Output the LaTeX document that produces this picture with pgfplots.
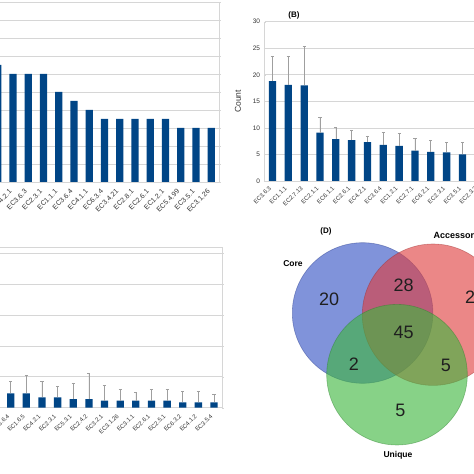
\documentclass[border=0pt]{standalone}
\usepackage{pgfplots}
\pgfplotsset{compat=1.18}
\usepackage{fontspec}
\setmainfont{Liberation Sans}
\definecolor{barblue}{HTML}{004586}
\definecolor{gridgray}{HTML}{D6D6D6}
\definecolor{tickgray}{HTML}{333333}
\definecolor{venblue}{RGB}{50,80,195}
\definecolor{venred}{RGB}{222,62,62}
\definecolor{vengreen}{RGB}{62,182,62}
\pgfplotsset{
  panel/.style={
    scale only axis, anchor=south west, enlargelimits=false,
    ybar, bar width=7.3pt,
    ymajorgrids, grid style={gridgray, line width=0.6pt},
    axis line style={gridgray, line width=0.6pt},
    xtick style={draw=none},
    ytick style={gridgray},
    tick align=outside, major tick length=2pt,
    /pgf/number format/assume math mode=true,
    yticklabel style={font=\fontsize{6.5}{7}\selectfont, color=tickgray},
  },
  errs/.style={
    error bars/.cd, y dir=plus, y explicit,
    error bar style={gray!75, line width=0.6pt},
    error mark options={rotate=90, gray!75, mark size=1.6pt, line width=0.6pt},
  },
}
\begin{document}
\begin{tikzpicture}

% ---------------- Panel A ----------------
\begin{axis}[panel, at={(-9.875pt,292pt)}, width=228.75pt, height=180pt,
  xmin=-0.5, xmax=14.5, ymin=0, ymax=20, ytick={0,2,...,20},
  axis lines=box,
  xtick={0,...,14},
  xticklabels={EC3.1.3,EC4.2.1,EC3.6.3,EC2.3.1,EC1.1.1,EC3.6.4,EC4.1.1,EC6.3.4,EC3.4.21,EC2.8.1,EC2.6.1,EC1.2.1,EC5.4.99,EC3.5.1,EC3.1.26},
  xticklabel style={yshift=-4pt, rotate=45, anchor=east, font=\fontsize{7}{8}\selectfont, color=tickgray},
]
\addplot[fill=barblue, draw=none] coordinates {
(0,13) (1,12) (2,12) (3,12) (4,10) (5,9) (6,8) (7,7) (8,7) (9,7) (10,7) (11,7) (12,6) (13,6) (14,6)};
\end{axis}

% ---------------- Panel B ----------------
\begin{axis}[panel, at={(264.6pt,293pt)}, width=237.4pt, height=159.3pt,
  xmin=-0.5, xmax=14.5, ymin=0, ymax=30, ytick={0,5,...,30},
  axis x line=bottom, axis y line=left, axis line style={-, gridgray, line width=0.6pt},
  xtick={0,...,13},
  xticklabels={EC3.6.3,EC1.1.1,EC2.7.13,EC2.1.1,EC6.1.1,EC2.6.1,EC4.2.1,EC3.6.4,EC1.2.1,EC2.7.1,EC6.2.1,EC2.3.1,EC3.5.1,EC2.3.2},
  xticklabel style={yshift=-3pt, rotate=45, anchor=east, font=\fontsize{6}{7}\selectfont, color=tickgray},
  ylabel={Count},
  every axis y label/.style={at={(axis description cs:-0.112,0.5)}, rotate=90, anchor=center, font=\fontsize{8.5}{9}\selectfont, color=tickgray},
]
\addplot[fill=barblue, draw=none, errs] table[x=x, y=y, y error=e] {
x y e
0 18.8 4.7
1 18.1 5.4
2 18.0 7.3
3 9.1 2.9
4 7.9 2.2
5 7.7 1.9
6 7.3 1.2
7 6.8 2.4
8 6.6 2.4
9 5.7 2.3
10 5.5 2.1
11 5.4 1.8
12 5.0 2.2
13 4.9 2.0
};
\end{axis}

% ---------------- Panel C ----------------
\begin{axis}[panel, at={(-12.76pt,66.3pt)}, width=234.6pt, height=160.7pt,
  xmin=-1.5, xmax=13.5, ymin=0, ymax=26, ytick={0,5,...,25},
  axis lines=box,
  xtick={0,...,13},
  xticklabels={EC3.6.4,EC1.6.5,EC4.2.1,EC2.3.1,EC5.3.1,EC2.4.2,EC3.2.1,EC3.1.26,EC3.1.1,EC2.6.1,EC2.5.1,EC6.3.2,EC4.1.2,EC3.5.4},
  xticklabel style={yshift=-3pt, rotate=45, anchor=east, font=\fontsize{6}{7}\selectfont, color=tickgray},
]
\addplot[fill=barblue, draw=none, errs] table[x=x, y=y, y error=e] {
x y e
0 2.33 1.87
1 2.33 2.87
2 1.68 2.52
3 1.68 1.82
4 1.40 2.60
5 1.40 4.17
6 1.13 2.54
7 1.13 1.87
8 1.13 1.30
9 1.13 1.87
10 1.13 1.87
11 0.86 1.73
12 0.86 1.73
13 0.86 1.31
};
\end{axis}

% ---------------- Panel D (Venn) ----------------
\begin{axis}[at={(240pt,0pt)}, anchor=south west, scale only axis, width=234pt, height=240pt,
  xmin=240, xmax=474, ymin=0, ymax=240, hide axis, clip=false]
\fill[venblue, fill opacity=0.62] (axis cs:362.6,161) circle[radius=70.3];
\draw[venblue!70!black, draw opacity=0.45, line width=0.6pt] (axis cs:362.6,161) circle[radius=70.3];
\fill[venred, fill opacity=0.62] (axis cs:433,159.3) circle[radius=70.7];
\draw[venred!70!black, draw opacity=0.45, line width=0.6pt] (axis cs:433,159.3) circle[radius=70.7];
\fill[vengreen, fill opacity=0.62] (axis cs:397,99.3) circle[radius=70.3];
\draw[vengreen!70!black, draw opacity=0.45, line width=0.6pt] (axis cs:397,99.3) circle[radius=70.3];
\node[font=\fontsize{18}{20}\selectfont, color=black!88] at (axis cs:329.2,174.8) {20};
\node[font=\fontsize{18}{20}\selectfont, color=black!88] at (axis cs:403.7,188.7) {28};
\node[font=\fontsize{18}{20}\selectfont, color=black!88] at (axis cs:403.7,142) {45};
\node[font=\fontsize{18}{20}\selectfont, color=black!88] at (axis cs:354,110) {2};
\node[font=\fontsize{18}{20}\selectfont, color=black!88] at (axis cs:446,108.3) {5};
\node[font=\fontsize{18}{20}\selectfont, color=black!88] at (axis cs:400.3,64) {5};
\node[font=\fontsize{18}{20}\selectfont, color=black!88, anchor=west, inner sep=0pt] at (axis cs:465,176.7) {23};
\node[font=\bfseries\fontsize{8.5}{10}\selectfont] at (axis cs:293,210.5) {Core};
\node[font=\bfseries\fontsize{8.5}{10}\selectfont] at (axis cs:398,19) {Unique};
\node[font=\bfseries\fontsize{9}{10}\selectfont, anchor=west, inner sep=0pt] at (axis cs:433.3,238) {Accessory};
\end{axis}

\node[font=\bfseries\fontsize{8}{9}\selectfont] at (294pt,459pt) {(B)};
\node[font=\bfseries\fontsize{8}{9}\selectfont] at (326pt,242.5pt) {(D)};

\pgfresetboundingbox
\path[use as bounding box] (0pt,0pt) rectangle (474pt,474pt);
\end{tikzpicture}
\end{document}
